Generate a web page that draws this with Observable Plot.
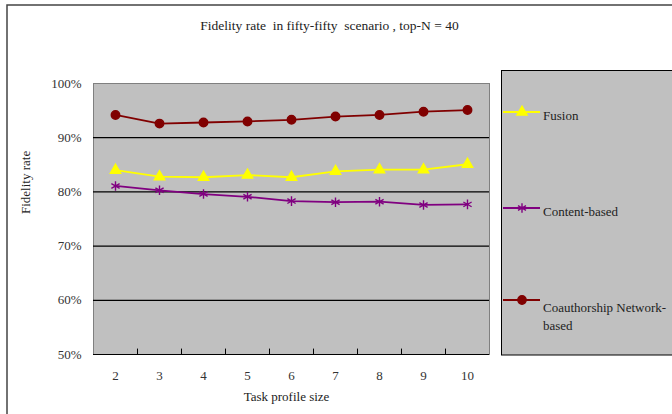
<!DOCTYPE html>
<html>
<head>
<meta charset="utf-8">
<script src="https://cdn.jsdelivr.net/npm/d3@7"></script>
<script src="https://cdn.jsdelivr.net/npm/@observablehq/plot@0.6"></script>
<style>
  html, body { margin: 0; padding: 0; background: white; overflow: hidden; }
  #wrap { position: relative; width: 672px; height: 414px; overflow: hidden; }
  #overlay { position: absolute; left: 0; top: 0; pointer-events: none; }
</style>
</head>
<body>
<div id="wrap"></div>
<script>
// ---- data ----
const taskSizes = [2, 3, 4, 5, 6, 7, 8, 9, 10];
const fusion = [84.0, 82.8, 82.7, 83.1, 82.7, 83.8, 84.1, 84.1, 85.1];
const contentBased = [81.1, 80.3, 79.6, 79.1, 78.3, 78.1, 78.2, 77.6, 77.7];
const coauthorship = [94.2, 92.6, 92.8, 93.0, 93.3, 93.9, 94.2, 94.8, 95.1];
const seriesNames = ["Fusion", "Content-based", "Coauthorship Network-based"];
const seriesColors = ["#ffff00", "#800080", "#800000"];
const yTicks = [50, 60, 70, 80, 90, 100];
const gridLines = [60, 70, 80, 90];
const xTickMarks = [2.5, 3.5, 4.5, 5.5, 6.5, 7.5, 8.5, 9.5];
const titleText = "Fidelity rate  in fifty-fifty  scenario , top-N = 40";
const xTitle = "Task profile size";
const yTitle = "Fidelity rate";

const seriesValues = [fusion, contentBased, coauthorship];
const rows = [];
seriesNames.forEach((s, i) => taskSizes.forEach((x, j) => rows.push({series: s, x, y: seriesValues[i][j]})));
const bySeries = s => rows.filter(r => r.series === s);

const font = "'Liberation Serif', 'Times New Roman', serif";

const chart = Plot.plot({
  width: 672,
  height: 414,
  marginLeft: 93,
  marginRight: 183,
  marginTop: 83,
  marginBottom: 60,
  style: {fontFamily: font, fontSize: "13px", color: "#222", background: "white"},
  x: {domain: [1.5, 10.5], axis: null},
  y: {domain: [50, 100], axis: null},
  color: {domain: seriesNames, range: seriesColors},
  marks: [
    Plot.frame({fill: "#c0c0c0", stroke: "#808080"}),
    Plot.ruleY(gridLines, {stroke: "black", strokeWidth: 1.2}),
    Plot.ruleY([50], {stroke: "black", strokeWidth: 1.2}),
    Plot.ruleX(xTickMarks, {y1: 50, y2: 51, stroke: "black"}),
    Plot.axisX(taskSizes, {tickSize: 0, tickPadding: 16, label: null, fontSize: 13, fill: "#333"}),
    Plot.axisY(yTicks, {tickSize: 0, tickPadding: 12, tickFormat: d => d + "%", label: null, fontSize: 13, fill: "#333"}),
    Plot.text([xTitle], {frameAnchor: "bottom", dy: 46, dx: -5, fontSize: 13, fill: "#222"}),
    Plot.text([yTitle], {frameAnchor: "left", rotate: -90, dx: -68, dy: -5, fontSize: 13, fill: "#222"}),
    Plot.text([titleText], {frameAnchor: "top", dy: -63, dx: 38, fontSize: 13.5, fill: "#222"}),
    Plot.line(rows, {x: "x", y: "y", z: "series", stroke: "series", strokeWidth: 1.8}),
    Plot.dot(bySeries("Content-based"), {x: "x", y: "y", symbol: "asterisk", r: 4.5, stroke: "#800080", strokeWidth: 1.4}),
    Plot.dot(bySeries("Fusion"), {x: "x", y: "y", symbol: "triangle", r: 3.8, fill: "#ffff00", stroke: "#ffff00"}),
    Plot.dot(bySeries("Coauthorship Network-based"), {x: "x", y: "y", symbol: "circle", r: 4.2, fill: "#800000", stroke: "#800000"})
  ]
});
const wrap = document.getElementById("wrap");
wrap.appendChild(chart);

// ---- overlay: outer border and legend ----
const ov = d3.select(wrap).append("svg").attr("id", "overlay").attr("width", 672).attr("height", 414);
ov.append("rect").attr("x", 7).attr("y", 5).attr("width", 700).attr("height", 450)
  .attr("fill", "none").attr("stroke", "#444").attr("stroke-width", 1.5);
ov.append("rect").attr("x", 501.5).attr("y", 70.5).attr("width", 200).attr("height", 284.5)
  .attr("fill", "#c0c0c0").attr("stroke", "black");

const legendItems = [
  {name: seriesNames[0], lines: ["Fusion"], my: 112, ty: 115, sym: d3.symbolTriangle, size: 45, fill: seriesColors[0], stroke: seriesColors[0]},
  {name: seriesNames[1], lines: ["Content-based"], my: 208, ty: 211, sym: d3.symbolAsterisk, size: 60, fill: "none", stroke: seriesColors[1]},
  {name: seriesNames[2], lines: ["Coauthorship Network-", "based"], my: 300, ty: 307, sym: d3.symbolCircle, size: 55, fill: seriesColors[2], stroke: seriesColors[2]}
];
legendItems.forEach(it => {
  ov.append("line").attr("x1", 503).attr("x2", 540).attr("y1", it.my).attr("y2", it.my)
    .attr("stroke", it.stroke).attr("stroke-width", 1.8);
  ov.append("path").attr("d", d3.symbol(it.sym, it.size)())
    .attr("transform", `translate(522,${it.my})`)
    .attr("fill", it.fill).attr("stroke", it.stroke).attr("stroke-width", 1.4);
  it.lines.forEach((t, k) => {
    ov.append("text").attr("x", 543).attr("y", it.ty + k * 18).attr("dy", "0.35em")
      .attr("font-family", font).attr("font-size", 13).attr("fill", "#222").text(t);
  });
});
</script>
</body>
</html>
